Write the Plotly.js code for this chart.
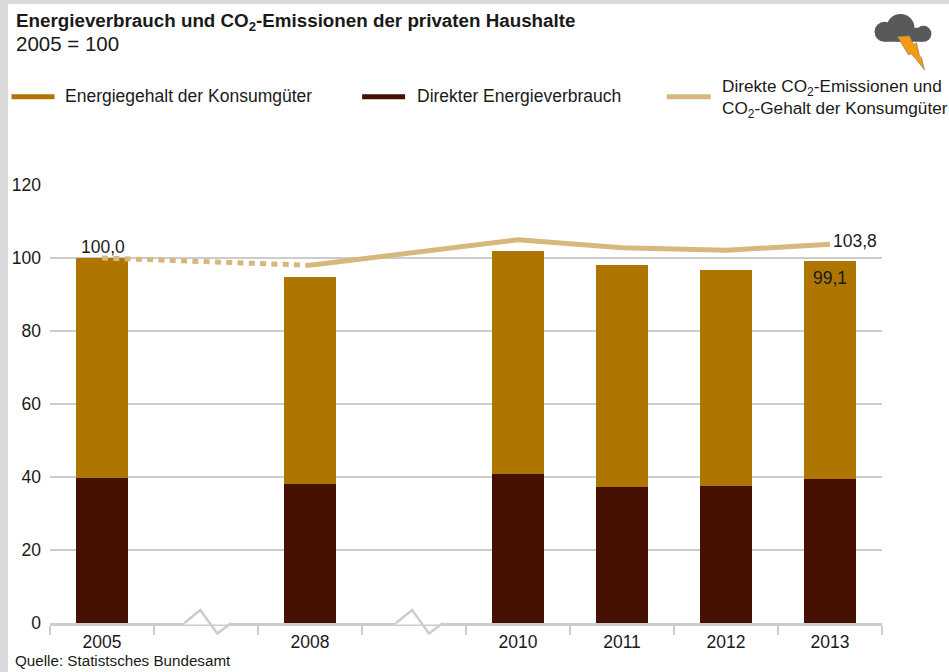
<!DOCTYPE html>
<html><head><meta charset="utf-8">
<script src="https://cdn.plot.ly/plotly-3.0.1.min.js"></script>
<style>html,body{margin:0;padding:0;background:#d9d9d9;width:949px;height:672px;overflow:hidden}#c{position:absolute;left:8px;top:4px;width:941px;height:668px;background:#fff}</style>
</head><body><div id="c"></div>
<script>
const categories = ['2005',' ','2008','  ','2010','2011','2012','2013'];
const barYears = ['2005','2008','2010','2011','2012','2013'];
const direct = [39.8,38.1,40.9,37.3,37.6,39.5];
const embodied = [60.2,56.6,60.9,60.7,59.0,59.6];
const dottedYears = ['2005','2008'];
const dottedCO2 = [100,98];
const solidYears = ['2008','2010','2011','2012','2013'];
const solidCO2 = [98,105,102.8,102.1,103.8];
const names = ['Energiegehalt der Konsumgüter','Direkter Energieverbrauch','Direkte CO<sub>2</sub>-Emissionen und<br>CO<sub>2</sub>-Gehalt der Konsumgüter'];
const colors = {embodied:'#ae7600',direct:'#451000',co2:'#d7b77c',grid:'#cccccc',text:'#1a1a1a',cloud:'#58595b',bolt:'#f39c12'};
const W=941,H=668,OX=8,OY=4;
const PL=49.5,PR=882.5,PT=184.5,PB=623.5;
const L=PL-OX,R=W-(PR-OX),T=PT-OY,B=H-(PB-OY);
const px=x=>(x-PL)/(PR-PL), py=y=>(PB-y)/(PB-PT);
const cat=c=>categories.indexOf(c);
const path=pts=>pts.map((p,i)=>(i?'L':'M')+px(p[0]).toFixed(5)+' '+py(p[1]).toFixed(5)).join(' ');
const F='"Liberation Sans",Arial,sans-serif';
const txt=(x,y,text,size)=>({xref:'paper',yref:'paper',x:px(x),y:py(y),text,showarrow:false,xanchor:'left',yanchor:'middle',align:'left',font:{family:F,size,color:colors.text}});
const legendLine=(x0,x1,c)=>({type:'line',xref:'paper',yref:'paper',x0:px(x0),x1:px(x1),y0:py(96),y1:py(96),line:{color:c,width:5}});
const zig=a=>[
 {type:'line',xref:'paper',yref:'paper',x0:px(a),x1:px(a+47),y0:py(623.5),y1:py(623.5),line:{color:'#fff',width:3},layer:'above'},
 {type:'path',xref:'paper',yref:'paper',path:path([[a,623.5],[a+16,610.5],[a+33,634],[a+47,623.5]]),line:{color:colors.grid,width:2.5},layer:'above'}];
const circle=(cx,cy,r)=>({type:'circle',xref:'paper',yref:'paper',x0:px(cx-r),x1:px(cx+r),y0:py(cy-r),y1:py(cy+r),fillcolor:colors.cloud,line:{width:0}});
const data=[
 {type:'bar',name:'Direkter Energieverbrauch',x:barYears,y:direct,marker:{color:colors.direct},width:0.505,showlegend:false},
 {type:'bar',name:'Energiegehalt der Konsumgüter',x:barYears,y:embodied,marker:{color:colors.embodied},width:0.505,showlegend:false},
 {type:'scatter',mode:'lines',x:dottedYears,y:dottedCO2,line:{color:colors.co2,width:5,dash:'6px,5.3px'},showlegend:false,name:'CO2'},
 {type:'scatter',mode:'lines',x:solidYears,y:solidCO2,line:{color:colors.co2,width:5},showlegend:false,name:'CO2'}
];
const layout={
 width:W,height:H,margin:{l:L,r:R,t:T,b:B,pad:0},paper_bgcolor:'#fff',plot_bgcolor:'#fff',barmode:'stack',
 font:{family:F,size:17.5,color:colors.text},showlegend:false,
 xaxis:{type:'category',categoryorder:'array',categoryarray:categories,tickvals:categories,ticktext:categories,range:[-0.5,7.5],tickson:'boundaries',ticks:'outside',ticklen:9,tickwidth:2.5,tickcolor:colors.grid,showline:true,linecolor:colors.grid,linewidth:2.5,showgrid:false,zeroline:false,tickfont:{size:17.5},ticklabelstandoff:1,fixedrange:true},
 yaxis:{range:[0,120],tickvals:[0,20,40,60,80,100,120],gridcolor:colors.grid,gridwidth:2.5,zeroline:false,showline:false,ticks:'',tickfont:{size:17.5},ticklabelstandoff:8,fixedrange:true},
 annotations:[
  txt(13,21,'<b>Energieverbrauch und CO<sub>2</sub>-Emissionen der privaten Haushalte</b>',18.8),
  txt(13,43,'2005 = 100',20.5),
  txt(63,95,names[0],17.5),txt(415,95,names[1],17.5),txt(720,98,names[2],17.2),
  txt(12,661,'Quelle: Statistsches Bundesamt',15.2),
  {x:cat('2005'),y:100,xref:'x',yref:'y',text:'100,0',showarrow:false,yanchor:'bottom',xshift:1,yshift:-1,font:{size:17.5}},
  {x:cat('2013'),y:103.8,xref:'x',yref:'y',text:'103,8',showarrow:false,xanchor:'left',xshift:1,yshift:3,font:{size:17.5}},
  {x:cat('2013'),y:99.1,xref:'x',yref:'y',text:'99,1',showarrow:false,yanchor:'top',xshift:0,yshift:-5,font:{size:17.5}}
 ],
 shapes:[
  legendLine(11,54,colors.embodied),legendLine(362,405,colors.direct),legendLine(667,711,colors.co2),
  ...zig(184),...zig(396),
  circle(901,27,14),circle(885,31,10),circle(924,33,8),
  {type:'rect',xref:'paper',yref:'paper',x0:px(885),x1:px(924),y0:py(41),y1:py(27),fillcolor:colors.cloud,line:{width:0}},
  {type:'path',xref:'paper',yref:'paper',path:path([[898,36],[910,35],[914,44],[917,42],[920,55],[922,57],[925,69],[917,59],[912,53],[909,54]])+' Z',fillcolor:colors.bolt,line:{color:'#8a7a60',width:0.7}}
 ]
};
Plotly.newPlot('c',data,layout,{displayModeBar:false,staticPlot:true});
</script></body></html>
